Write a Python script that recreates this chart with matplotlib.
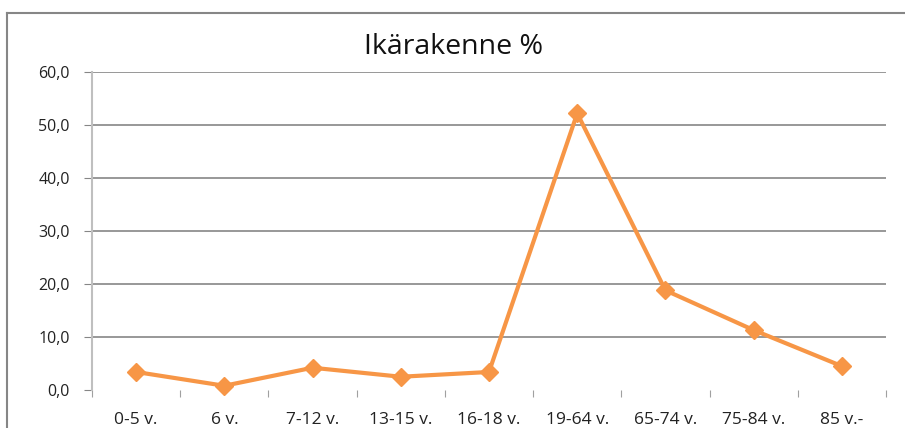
import numpy as np
import matplotlib.pyplot as plt
from matplotlib.lines import Line2D

categories = ['0-5 v.', '6 v.', '7-12 v.', '13-15 v.', '16-18 v.',
              '19-64 v.', '65-74 v.', '75-84 v.', '85 v.-']
values = [3.4, 0.8, 4.2, 2.5, 3.4, 52.2, 18.8, 11.3, 4.5]
yticks = [0, 10, 20, 30, 40, 50, 60]
ytick_labels = ['0,0', '10,0', '20,0', '30,0', '40,0', '50,0', '60,0']

W, H = 905, 428
fig = plt.figure(figsize=(W / 100, H / 100), dpi=100)
ax = fig.add_axes([92 / W, 1 - 390 / H, (886 - 92) / W, (390 - 72) / H])

x = np.arange(len(categories))
ax.plot(x, values, color='#F79646', lw=3, marker='D', markersize=9,
        markeredgecolor='#F79646', zorder=3, clip_on=False)

ax.set_xlim(-0.5, len(categories) - 0.5)
ax.set_ylim(0, 60)
ax.set_yticks(yticks)
ax.set_yticklabels(ytick_labels, fontsize=11.5, family='Open Sans', color='#222222')
ax.yaxis.grid(True, color='#868686', lw=1.2)
ax.yaxis.get_gridlines()[0].set_visible(False)
ax.set_axisbelow(True)

# x ticks at category boundaries, labels at centres
ax.set_xticks(np.arange(len(categories) + 1) - 0.5)
ax.set_xticklabels([])
ax.set_xticks(x, minor=True)
ax.set_xticklabels(categories, minor=True, fontsize=12.5, family='Open Sans',
                   color='#222222')
ax.tick_params(axis='x', which='major', length=5, color='#A0A0A0', direction='out')
ax.tick_params(axis='x', which='minor', length=0, pad=16)
ax.tick_params(axis='y', length=6, color='#868686', pad=10)

for s in ['top', 'right', 'bottom']:
    ax.spines[s].set_visible(False)
ax.spines['left'].set_color('#BFBFBF')
ax.spines['left'].set_linewidth(1.5)

fig.text(453 / W, 1 - 47 / H, 'Ikärakenne %', ha='center', va='center',
         fontsize=20.5, family='Open Sans', color='#111111')

# chart frame (cropped)
fig.add_artist(Line2D([7 / W, 1.0], [1 - 13 / H] * 2, transform=fig.transFigure,
                      color='#868686', lw=1.5))
fig.add_artist(Line2D([7 / W] * 2, [0, 1 - 13 / H], transform=fig.transFigure,
                      color='#868686', lw=1.5))

fig.savefig('out.png', dpi=100)
